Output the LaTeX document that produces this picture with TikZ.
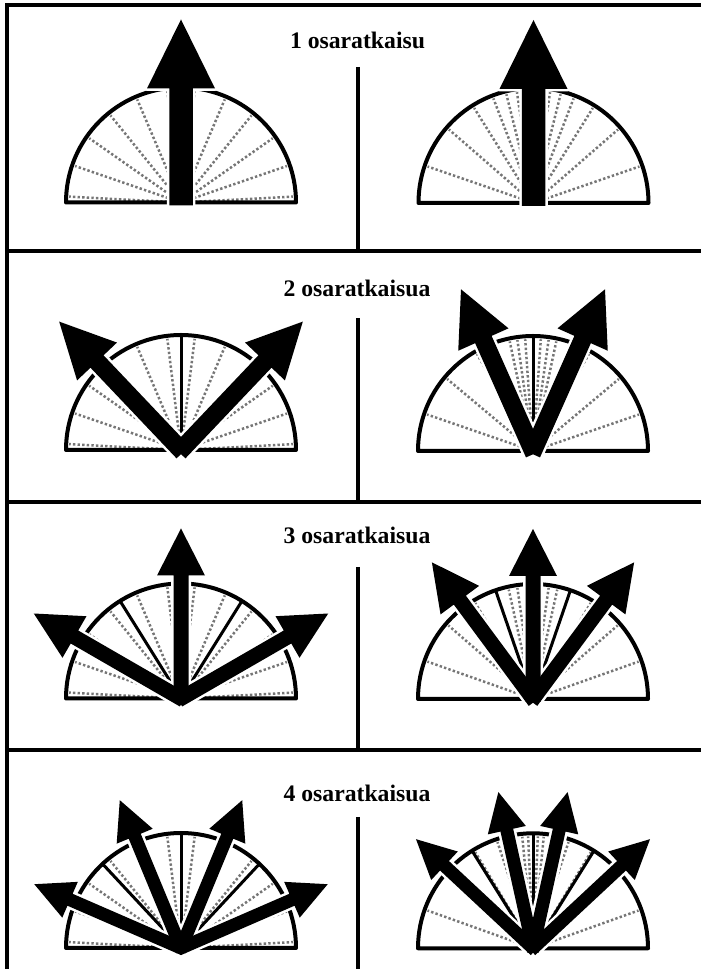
\documentclass[tikz,border=0pt]{standalone}
\usepackage{fontspec}
\setmainfont{Liberation Serif}
\definecolor{dotgray}{RGB}{118,118,118}
\newcommand\myrim[3]{\draw[rim] ({#1-#3},{969-#2}) arc[start angle=180,end angle=0,radius=#3] -- cycle;}
\newcommand\mydots[4]{\foreach \ang in {#4} {\draw[dotline] (#1,{969-#2}) -- ({#1+(#3-3)*cos(\ang)},{969-#2+(#3-3)*sin(\ang)});}}
\newcommand\mydivs[4]{\foreach \ang in {#4} {\draw[divider] (#1,{969-#2}) -- ({#1+#3*cos(\ang)},{969-#2+#3*sin(\ang)});}}
\newcommand\myarrowone[8]{%
 \begin{scope}[shift={(#1,{969-#2})}, rotate={#3-90}]
  \path[#8] ({-#5/2},-3) -- ({-#5/2},{#4-#7}) -- ({-#6/2},{#4-#7}) -- (0,#4) -- ({#6/2},{#4-#7}) -- ({#5/2},{#4-#7}) -- ({#5/2},-3) -- cycle;
 \end{scope}}
\newcommand\arrowset[7]{%
 \foreach \ang in {#3} {\myarrowone{#1}{#2}{\ang}{#4}{#5}{#6}{#7}{arrowwhite}}
 \foreach \ang in {#3} {\myarrowone{#1}{#2}{\ang}{#4}{#5}{#6}{#7}{arrowblack}}}
\begin{document}
\begin{tikzpicture}[x=1pt,y=1pt,
  frameline/.style={line width=4pt, line cap=rect},
  rim/.style={line width=4pt, line join=round},
  dotline/.style={draw=dotgray, line width=2.5pt, dash pattern=on 2.4pt off 2.2pt},
  divider/.style={line width=3pt},
  title/.style={font=\fontsize{23.7}{28}\selectfont\bfseries, inner sep=0pt, anchor=base},
  arrowwhite/.style={draw=white, line width=5pt, line join=round},
  arrowblack/.style={fill=black}]
\useasboundingbox (0,0) rectangle (701,969);
\clip (0,0) rectangle (701,969);
% frame
\draw[frameline] (7,964) -- (708,964);
\draw[frameline] (7,964) -- (7,-2);
\draw[frameline] (7,-2) -- (708,-2);
\draw[frameline] (7,{969-251.5}) -- (708,{969-251.5});
\draw[frameline] (7,{969-502}) -- (708,{969-502});
\draw[frameline] (7,{969-750.3}) -- (708,{969-750.3});
\draw[line width=4pt] (357.5,{969-67}) -- (357.5,{969-251.5});
\draw[line width=4pt] (357.5,{969-318.5}) -- (357.5,{969-502});
\draw[line width=4pt] (357.5,{969-567}) -- (357.5,{969-750.3});
\draw[line width=4pt] (357.5,{969-817}) -- (357.5,-2);
% titles
\node[title] (t1) at (357.5,{969-48.7}) {1 osaratkaisu};
\node[title] (t2) at (357,{969-296.7}) {2 osaratkaisua};
\node[title] (t3) at (357,{969-543.3}) {3 osaratkaisua};
\node[title] (t4) at (357,{969-801.7}) {4 osaratkaisua};
% panel 1
\mydots{181}{202.5}{115}{3,19,35,51,67,83,97,113,129,145,161,177}
\myrim{181}{202.5}{115}
\arrowset{181}{202.5}{90}{183}{23.5}{68}{69}
\mydots{533.5}{203}{115}{19,41,58,69,76,81.5,98.5,104,111,122,139,161}
\myrim{533.5}{203}{115}
\arrowset{533.5}{203}{90}{183}{23.5}{68}{69}
% panel 2
\mydots{181}{450}{115}{3,19,35,51,67,83,97,113,129,145,161,177}
\myrim{181}{450}{115}
\mydivs{181}{450}{115}{90}
\arrowset{181}{450}{46.5,133.5}{177}{18}{55}{55}
\mydots{533}{451}{115}{19,40,60,78,82,86,94,98,102,120,140,161}
\myrim{533}{451}{115}
\mydivs{533}{451}{115}{90}
\arrowset{533}{451}{66,114}{177}{18}{55}{55}
% panel 3
\mydots{181}{698.5}{115}{3,19,35,51,67,83,97,113,129,145,161,177}
\myrim{181}{698.5}{115}
\mydivs{181}{698.5}{115}{58,122}
\arrowset{181}{698.5}{30,90,150}{170}{15}{48}{47}
\mydots{533}{699}{115}{19.5,41,59,77.5,82,86,94,98,102.5,121,139,160.5}
\myrim{533}{699}{115}
\mydivs{533}{699}{115}{71,109}
\arrowset{533}{699}{53.5,90,126.5}{170}{15}{48}{47}
% panel 4
\mydots{181}{948}{115}{3,19,35,51,67,83,97,113,129,145,161,177}
\myrim{181}{948}{115}
\mydivs{181}{948}{115}{47,90,133}
\arrowset{181}{948}{23.5,67.5,112.5,156.5}{160}{13}{39}{39}
\mydots{533}{948.3}{115}{19.7,41,59,71.5,84.5,87.5,92.5,95.5,108.5,121,139,160.3}
\myrim{533}{948.3}{115}
\mydivs{533}{948.3}{115}{58,90,122}
\arrowset{533}{948.3}{43,77.5,102.5,137}{160}{13}{39}{39}
\end{tikzpicture}
\end{document}
